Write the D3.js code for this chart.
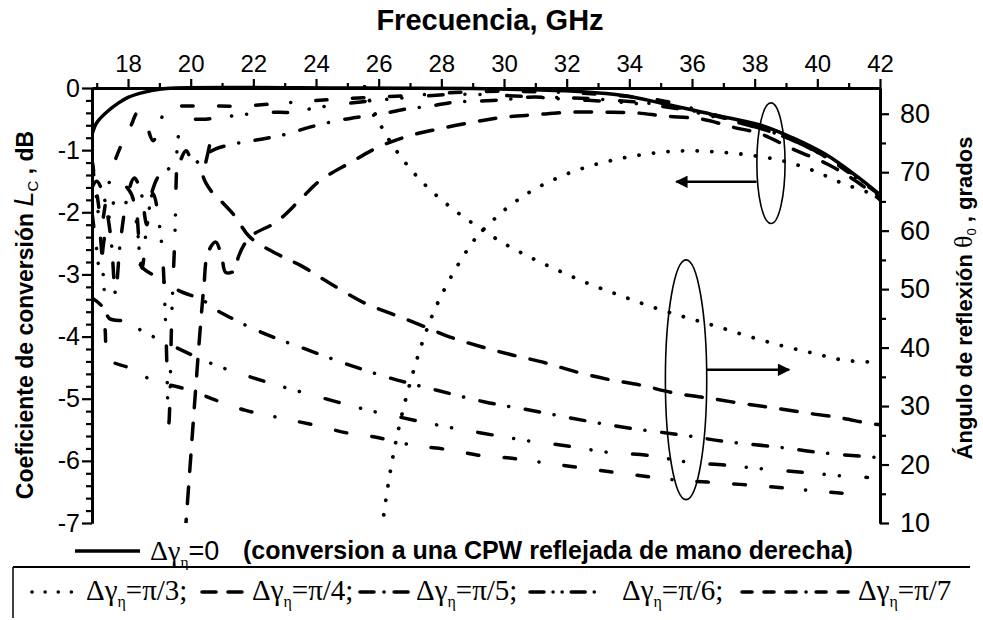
<!DOCTYPE html>
<html><head><meta charset="utf-8">
<script src="https://cdn.jsdelivr.net/npm/d3@7"></script>
<style>body{margin:0;background:#fff}svg{display:block}</style>
</head><body><svg id="c" width="983" height="620"></svg>
<script>
// ---------- data ----------
const freqTicks = [18,20,22,24,26,28,30,32,34,36,38,40,42];
const lcTicks = [0,-1,-2,-3,-4,-5,-6,-7];
const thetaTicks = [10,20,30,40,50,60,70,80];
const seriesNames = ["Δγη=0","Δγη=π/3","Δγη=π/4","Δγη=π/5","Δγη=π/6","Δγη=π/7"];

// conversion coefficient Lc (dB) vs frequency (GHz)
const lcPi0 = [[16.85,-0.75],[17.0,-0.56],[17.36,-0.37],[17.7,-0.24],[18.0,-0.15],[18.5,-0.07],[19.0,-0.02],[19.5,0],[25,0],[29,-0.01],[31,-0.03],[32.5,-0.06],[33.8,-0.12],[35,-0.24],[36.6,-0.42],[38.2,-0.6],[39.2,-0.8],[40.3,-1.08],[41.36,-1.46],[42,-1.72]];
const lcPi3 = [[26.1,-7.1],[26.33,-6.29],[26.62,-5.52],[27.0,-4.75],[27.45,-4.01],[27.83,-3.52],[28.31,-3.04],[28.85,-2.59],[29.2,-2.35],[29.55,-2.18],[29.9,-2.01],[30.77,-1.69],[31.69,-1.45],[32.65,-1.27],[33.67,-1.14],[34.72,-1.05],[35.78,-1.01],[36.83,-1.03],[37.85,-1.08],[38.87,-1.17],[39.83,-1.32],[40.79,-1.53],[41.68,-1.69],[42,-1.75]];
const lcPi4 = [[19.82,-7.2],[20.0,-5.95],[20.15,-4.9],[20.3,-3.9],[20.42,-3.2],[20.55,-2.65],[20.8,-2.48],[21.0,-2.75],[21.12,-2.97],[21.44,-2.93],[21.52,-2.72],[21.89,-2.4],[22.75,-2.15],[23.49,-1.8],[24.1,-1.5],[25.1,-1.2],[26.0,-0.95],[26.9,-0.78],[27.9,-0.66],[29.0,-0.55],[30.0,-0.47],[31.0,-0.43],[32.1,-0.39],[33.2,-0.39],[34.2,-0.4],[35.1,-0.45],[36.3,-0.5],[37.3,-0.63],[38.2,-0.74],[39.2,-0.98],[40.3,-1.22],[41.3,-1.52],[42,-1.8]];
const lcPi5 = [[16.85,-1.6],[17.0,-1.5],[17.2,-1.7],[17.45,-2.4],[17.6,-3.3],[17.75,-2.5],[18.0,-1.7],[18.2,-1.45],[18.4,-1.65],[18.6,-2.2],[18.75,-1.7],[19.0,-1.4],[19.3,-1.3],[19.6,-1.22],[19.85,-1.01],[20.1,-1.22],[20.4,-1.1],[20.8,-0.98],[21.67,-0.87],[22.3,-0.82],[23.07,-0.74],[23.8,-0.63],[24.64,-0.53],[25.34,-0.47],[26.07,-0.42],[26.84,-0.34],[27.67,-0.29],[28.37,-0.23],[29.17,-0.21],[29.97,-0.19],[30.67,-0.15],[31.5,-0.15],[33,-0.18],[35,-0.27],[36.5,-0.42],[38,-0.62],[39.3,-0.86],[40.5,-1.18],[41.5,-1.52],[42,-1.73]];
const lcPi6 = [[16.85,-2.0],[17.0,-2.6],[17.1,-2.95],[17.25,-2.4],[17.5,-1.9],[17.8,-1.55],[18.1,-1.7],[18.3,-2.3],[18.45,-2.9],[18.6,-2.2],[18.8,-1.7],[19.05,-2.4],[19.2,-3.8],[19.3,-5.4],[19.4,-3.6],[19.5,-2.3],[19.55,-1.3],[19.63,-0.74],[19.92,-0.53],[20.55,-0.5],[21.8,-0.42],[22.6,-0.39],[23.2,-0.39],[24.1,-0.31],[25.5,-0.22],[27,-0.15],[28.5,-0.1],[30,-0.12],[32,-0.18],[34,-0.24],[35.5,-0.33],[37,-0.5],[38.5,-0.7],[39.7,-0.95],[40.8,-1.28],[42,-1.75]];
const lcPi7 = [[16.85,-1.15],[16.95,-1.5],[17.05,-1.85],[17.15,-2.2],[17.3,-1.8],[17.5,-1.3],[17.8,-0.9],[18.1,-0.6],[18.3,-0.4],[18.55,-0.55],[18.8,-0.85],[19.0,-0.6],[19.2,-0.35],[19.5,-0.3],[20.5,-0.29],[21.6,-0.29],[23.5,-0.22],[25,-0.17],[27,-0.12],[29,-0.06],[31,-0.06],[33,-0.1],[35,-0.2],[36.5,-0.4],[38,-0.62],[39.2,-0.84],[40.3,-1.12],[41.3,-1.47],[42,-1.72]];

// reflection angle theta (degrees) vs frequency (GHz)
const thPi3 = [[25.55,84.6],[25.8,81],[26.2,76.7],[26.78,72.1],[27.45,68.0],[28.25,64.2],[29.07,61.0],[29.97,57.9],[30.89,55.3],[31.85,52.9],[32.81,50.7],[33.77,48.8],[34.76,46.9],[35.78,45.2],[36.74,43.7],[37.76,42.0],[38.81,40.4],[39.83,39.1],[40.79,37.9],[41.78,37.5]];
const thPi4 = [[20.6,74.5],[20.49,71.9],[20.39,69.5],[20.65,66.8],[20.96,65.1],[21.41,62.5],[21.89,58.9],[22.94,55.5],[23.49,54.1],[24.44,51.0],[25.56,47.6],[26.36,45.9],[27.32,43.9],[28.28,41.8],[29.3,40.1],[30.29,38.7],[31.31,37.4],[32.33,35.8],[33.38,34.5],[34.34,33.6],[35.46,32.2],[36.48,31.4],[37.53,30.5],[38.59,29.7],[39.67,28.8],[40.72,28.0],[41.58,27.1],[42,26.8]];
const thPi5 = [[18.3,62],[18.35,58],[18.4,54.1],[19.0,51.8],[19.6,49.8],[20.39,48.1],[20.8,46.5],[21.28,45.1],[21.92,43.4],[22.72,41.6],[23.49,40.1],[24.86,37.4],[26.36,34.8],[27.86,32.7],[29.39,30.7],[30.93,29.2],[32.49,27.6],[34.02,26.2],[35.62,25.1],[37.12,23.9],[38.71,23.0],[40.18,22.0],[41.68,21.3],[42,21.2]];
const thPi6 = [[16.85,72],[16.95,67.5],[17.05,63],[17.15,57],[17.22,51.5],[17.3,46.5],[17.4,45.0],[18.0,44.4],[18.4,43.0],[19.3,40.6],[20.79,37.0],[21.72,35.3],[22.74,33.6],[24.2,31.4],[25.66,29.3],[26.68,28.1],[28.21,26.4],[29.27,25.4],[30.83,24.0],[31.85,23.3],[33.45,22.0],[34.56,21.6],[35.87,20.4],[37.05,19.9],[38.59,19.1],[39.67,18.6],[41.14,17.9],[41.6,17.8]];
const thPi7 = [[16.85,48.5],[17.2,46.8],[17.27,43],[17.33,39],[17.5,37.6],[18.0,36.6],[18.75,34.5],[19.98,32.7],[20.8,31.0],[21.73,29.3],[22.74,28.1],[23.9,26.8],[24.99,25.4],[25.88,24.7],[27.1,23.3],[28.28,22.5],[29.17,21.6],[30.19,21.1],[31.31,20.3],[32.49,19.4],[33.45,18.7],[34.18,18.2],[35.4,17.4],[36.5,17.0],[38.5,16.2],[39.7,15.6],[40.8,15.1],[41.5,15.0]];

// ---------- styles ----------
const dashes = {
  solid: null,
  dot: "0.1 14.5",
  long: "16.5 15.5",
  dashdot: "14.5 14.75 0.1 16.75",
  dashdotdot: "14.5 21.75 0.1 15 0.1 26.75",
  short: "11.5 25.5 11.5 25.5 11.5 23.5 0.1 25"
};
const legDashes = {
  dot: "0.1 13",
  long: "14 12",
  dashdot: "14 10 0.1 10",
  dashdotdot: "14 9 0.1 9 0.1 9",
  short: "10 12 10 12 10 10 0.1 10"
};

const svg = d3.select("#c");
const x = d3.scaleLinear().domain([16.85,42]).range([92,880]);
const yL = d3.scaleLinear().domain([-7,0]).range([523,88]);
const yR = d3.scaleLinear().domain([10,84.4]).range([523,88]);

svg.append("defs").append("clipPath").attr("id","plot")
  .append("rect").attr("x",x(16.85)).attr("y",yL(0)-3).attr("width",x(42)-x(16.85)+2).attr("height",yL(-7)-yL(0)+3);

const g = svg.append("g").attr("clip-path","url(#plot)");
const lineL = d3.line().x(d=>x(d[0])).y(d=>yL(d[1])).curve(d3.curveCatmullRom.alpha(0.5));
const lineR = d3.line().x(d=>x(d[0])).y(d=>yR(d[1])).curve(d3.curveCatmullRom.alpha(0.5));

function draw(data, gen, dash, w){
  const p = g.append("path").datum(data).attr("d",gen)
    .attr("fill","none").attr("stroke","#000").attr("stroke-width",w||3.5)
    .attr("stroke-linecap", dash ? "round":"butt").attr("stroke-linejoin","round");
  if(dash) p.attr("stroke-dasharray",dash);
}
draw(thPi3, lineR, dashes.dot, 3.8);
draw(thPi4, lineR, dashes.long);
draw(thPi5, lineR, dashes.dashdot);
draw(thPi6, lineR, dashes.dashdotdot);
draw(thPi7, lineR, dashes.short);
draw(lcPi3, lineL, dashes.dot, 3.8);
draw(lcPi4, lineL, dashes.long);
draw(lcPi5, lineL, dashes.dashdot);
draw(lcPi6, lineL, dashes.dashdotdot);
draw(lcPi7, lineL, dashes.short);
draw(lcPi0, lineL, null, 3.5);

// ---------- axes ----------
const sans = "'Liberation Sans',Arial,sans-serif", serif = "'Liberation Serif','Times New Roman',serif";
const topAx = svg.append("g").attr("transform",`translate(0,${yL(0)})`)
  .call(d3.axisTop(x).tickValues(freqTicks).tickSize(9).tickSizeOuter(0).tickPadding(7));
svg.append("g").attr("transform",`translate(0,${yL(0)})`)
  .call(d3.axisTop(x).tickValues(d3.range(17,42,2)).tickSize(5).tickFormat("").tickSizeOuter(0));
topAx.selectAll("text").attr("font-family",sans).attr("font-size",24).attr("fill","#000");

const leftAx = svg.append("g").attr("transform",`translate(${x(16.85)},0)`)
  .call(d3.axisLeft(yL).tickValues(lcTicks).tickSize(10).tickSizeOuter(0).tickPadding(2).tickFormat(d=>d===0?"0":String(d)));
svg.append("g").attr("transform",`translate(${x(16.85)},0)`)
  .call(d3.axisLeft(yL).tickValues(d3.range(0,-7.01,-0.2).filter(v=>Math.abs(v-Math.round(v))>0.01)).tickSize(6).tickFormat("").tickSizeOuter(0));
leftAx.selectAll("text").attr("font-family",sans).attr("font-size",25).attr("fill","#000");

const rightAx = svg.append("g").attr("transform",`translate(${x(42)},0)`)
  .call(d3.axisRight(yR).tickValues(thetaTicks).tickSize(9).tickSizeOuter(0).tickPadding(11));
svg.append("g").attr("transform",`translate(${x(42)},0)`)
  .call(d3.axisRight(yR).tickValues(d3.range(15,80,10)).tickSize(6).tickFormat("").tickSizeOuter(0));
rightAx.selectAll("text").attr("font-family",sans).attr("font-size",27).attr("fill","#000");

svg.selectAll(".domain").attr("stroke","#000").attr("stroke-width",3);
svg.selectAll(".tick line").attr("stroke","#000").attr("stroke-width",2.2);

// titles
svg.append("text").attr("x",490).attr("y",30).attr("text-anchor","middle")
  .attr("font-family",sans).attr("font-weight","bold").attr("font-size",29)
  .text("Frecuencia, GHz");

const lt = svg.append("text").attr("transform",`translate(33,315) rotate(-90)`).attr("text-anchor","middle")
  .attr("font-family",sans).attr("font-weight","bold").attr("font-size",23);
lt.append("tspan").text("Coeficiente de conversión ");
lt.append("tspan").attr("font-style","italic").attr("font-weight","normal").attr("font-size",27).text("L");
lt.append("tspan").attr("font-size",15).attr("dy",5).attr("font-weight","normal").text("C");
lt.append("tspan").attr("dy",-5).text(" , dB");

const rt = svg.append("text").attr("transform",`translate(972,298) rotate(-90)`).attr("text-anchor","middle")
  .attr("font-family",sans).attr("font-weight","bold").attr("font-size",22);
rt.append("tspan").text("Ángulo de reflexión ");
rt.append("tspan").attr("font-family",serif).attr("font-weight","normal").attr("font-size",26).text("θ");
rt.append("tspan").attr("font-size",13).attr("dy",4).attr("font-weight","normal").text("0");
rt.append("tspan").attr("dy",-4).text(" , grados");

// ---------- annotations (ellipses + arrows) ----------
const ann = svg.append("g").attr("fill","none").attr("stroke","#000").attr("stroke-width",1.6);
ann.append("ellipse").attr("cx",x(38.52)).attr("cy",yL(-1.21)).attr("rx",x(38.97)-x(38.52)).attr("ry",yL(-2.18)-yL(-1.21));
ann.append("ellipse").attr("cx",x(35.81)).attr("cy",yR(34.5)).attr("rx",x(36.47)-x(35.81)).attr("ry",yR(14.0)-yR(34.5));
svg.append("defs").append("marker").attr("id","ah").attr("viewBox","0 0 10 10").attr("refX",9).attr("refY",5)
  .attr("markerWidth",6).attr("markerHeight",5).attr("orient","auto-start-reverse").attr("markerUnits","strokeWidth")
  .append("path").attr("d","M0,0L10,5L0,10z").attr("fill","#000");
svg.append("line").attr("x1",x(38.06)).attr("y1",yL(-1.51)).attr("x2",x(35.5)).attr("y2",yL(-1.51))
  .attr("stroke","#000").attr("stroke-width",2.5).attr("marker-end","url(#ah)");
svg.append("line").attr("x1",x(36.47)).attr("y1",yR(36.2)).attr("x2",x(39.1)).attr("y2",yR(36.2))
  .attr("stroke","#000").attr("stroke-width",2.5).attr("marker-end","url(#ah)");

// ---------- legend ----------
svg.append("line").attr("x1",75).attr("x2",140).attr("y1",551).attr("y2",551).attr("stroke","#000").attr("stroke-width",3.5);
function gammaLabel(sel, xx, yy, rest, size, restFont, restSize){
  const t = sel.append("text").attr("x",xx).attr("y",yy).attr("font-family",serif).attr("font-size",size);
  t.append("tspan").text("Δγ");
  t.append("tspan").attr("font-size",size*0.55).attr("dy",7).text("η");
  const r = t.append("tspan").attr("dy",-7).text(rest);
  if(restFont) r.attr("font-family",restFont).attr("font-size",restSize);
  return t;
}
gammaLabel(svg,150,560,"=0",28,sans,27);
svg.append("text").attr("x",243).attr("y",559).attr("font-family",sans).attr("font-weight","bold").attr("font-size",25)
  .text("(conversion a una CPW reflejada de mano derecha)");

svg.append("line").attr("x1",13).attr("x2",970).attr("y1",567).attr("y2",567).attr("stroke","#000").attr("stroke-width",2);
svg.append("line").attr("x1",13).attr("x2",13).attr("y1",567).attr("y2",618).attr("stroke","#000").attr("stroke-width",1.5);

const legItems = [
  {dash:legDashes.dot, x1:32, x2:80, tx:86, label:"=π/3;"},
  {dash:legDashes.long, x1:202, x2:246, tx:252, label:"=π/4;"},
  {dash:legDashes.dashdot, x1:360, x2:410, tx:416, label:"=π/5;"},
  {dash:legDashes.dashdotdot, x1:530, x2:602, tx:622, label:"=π/6;"},
  {dash:legDashes.short, x1:742, x2:850, tx:858, label:"=π/7"}
];
legItems.forEach(d=>{
  svg.append("line").attr("x1",d.x1).attr("x2",d.x2).attr("y1",592).attr("y2",592).attr("stroke","#000")
    .attr("stroke-width",3.5).attr("stroke-dasharray",d.dash).attr("stroke-linecap","round");
  gammaLabel(svg,d.tx,600,d.label,29);
});
</script></body></html>
